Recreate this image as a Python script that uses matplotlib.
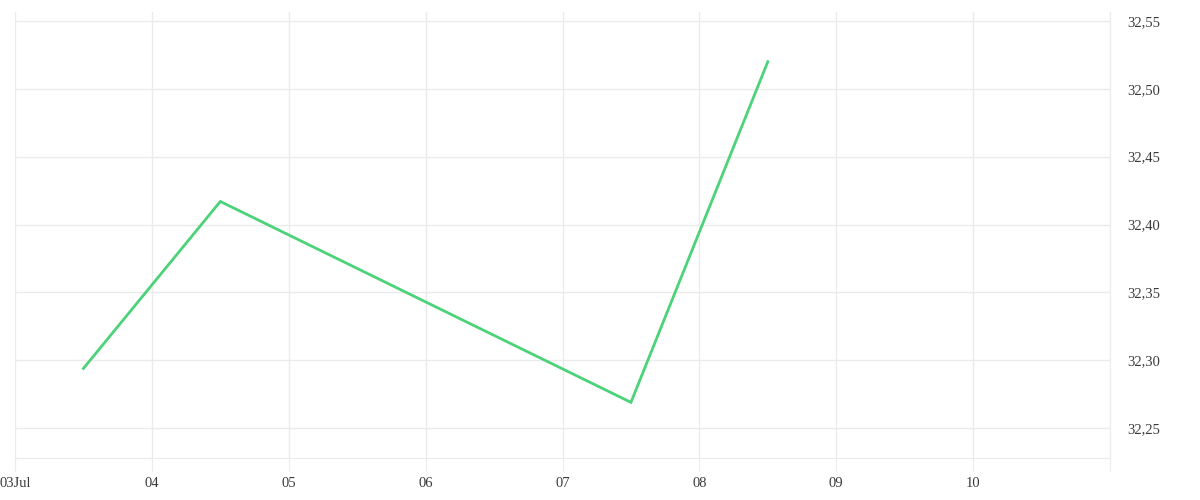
import matplotlib
matplotlib.use("Agg")
import matplotlib.pyplot as plt
import datetime as dt

# Data
dates = ["2024-07-03 12:00", "2024-07-04 12:00", "2024-07-07 12:00", "2024-07-08 12:00"]
values = [32.294, 32.417, 32.269, 32.520]
x_tick_labels = ["03Jul", "04", "05", "06", "07", "08", "09", "10"]
y_ticks = [32.25, 32.30, 32.35, 32.40, 32.45, 32.50, 32.55]

plt.rcParams['font.family'] = ['Liberation Serif', 'DejaVu Serif']

fig = plt.figure(figsize=(12, 5), dpi=100)
ax = fig.add_axes([15/1200, 42/500, (1110-15)/1200, (458-12)/500])

x = [dt.datetime.strptime(d, "%Y-%m-%d %H:%M") for d in dates]
ax.plot(x, values, color="#4cd37a", linewidth=2, solid_joinstyle="miter")

start = dt.datetime(2024, 7, 3)
ax.set_xlim(start, dt.datetime(2024, 7, 11))
ax.set_ylim(32.228, 32.5566)

tick_pos = [start + dt.timedelta(days=i) for i in range(len(x_tick_labels))]
ax.set_xticks(tick_pos + [dt.datetime(2024, 7, 11)])
ax.set_xticklabels(x_tick_labels + [""])
ax.set_yticks(y_ticks)
ax.set_yticklabels([f"{v:.2f}".replace(".", ",") for v in y_ticks])

ax.yaxis.tick_right()
ax.grid(True, color="#ebebeb", linewidth=1)
for s in ["top", "left"]:
    ax.spines[s].set_visible(False)
ax.spines["bottom"].set_color("#ebebeb")
ax.spines["right"].set_color("#ebebeb")
ax.tick_params(axis="x", length=9, color="#ebebeb", labelsize=10.5, labelcolor="#3a3a3a", pad=5)
ax.tick_params(axis="y", length=0, labelsize=10.5, labelcolor="#3a3a3a", pad=12.5)
for lbl in ax.get_yticklabels():
    lbl.set_y(lbl.get_position()[1])

fig.savefig("out.png", dpi=100, facecolor="white")
